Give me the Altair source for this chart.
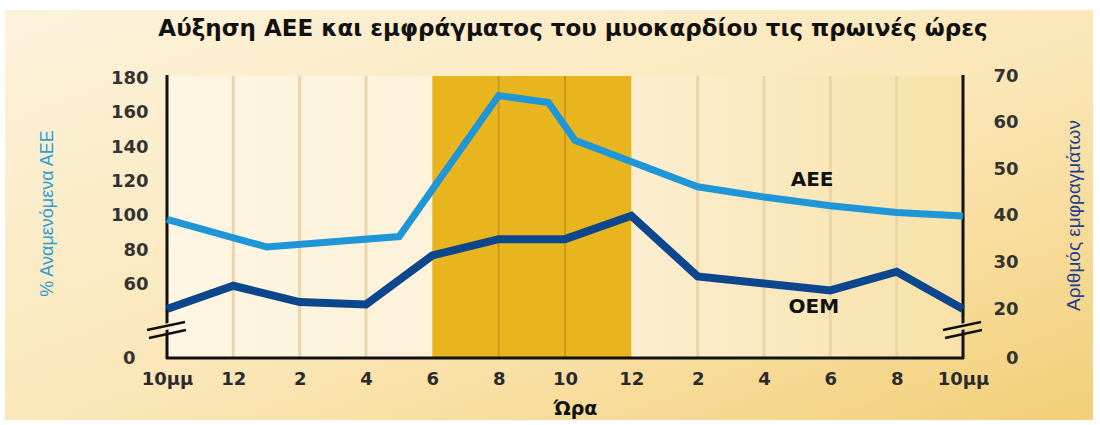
import json
import altair as alt
import pandas as pd

# Hours are counted from 22:00 (0) to 22:00 of the next day (24)
aee_hours = [0, 3, 7, 10, 11.5, 12.3, 16, 18, 20, 22, 24]
aee_values = [98, 82, 88, 170, 166, 144, 117, 111, 106, 102, 100]   # % of expected

oem_hours = [0, 2, 4, 6, 8, 10, 12, 14, 16, 20, 22, 24]
oem_values = [20, 25, 21.5, 21, 31.5, 35, 35, 40, 27, 24, 28, 20]   # number of infarctions

tick_hours = [0, 2, 4, 6, 8, 10, 12, 14, 16, 18, 20, 22, 24]
tick_labels = ["10μμ", "12", "2", "4", "6", "8", "10", "12", "2", "4", "6", "8", "10μμ"]

morning_band = [8, 14]          # 06:00 - 12:00
light_grid = [2, 4, 6, 16, 18, 20, 22]
band_grid = [10, 12]

aee_ticks = [60, 80, 100, 120, 140, 160, 180]
oem_ticks = [20, 30, 40, 50, 60, 70]
aee_floor, aee_top = 17.4, 181.4   # broken axis: bottom edge is labelled 0
oem_floor, oem_top = 9.5, 70

series_names = ["ΑΕΕ", "ΟΕΜ"]
series_label_hours = [19.45, 19.5]
series_label_values = [121, 20.4]

title_text = "Αύξηση ΑΕΕ και εμφράγματος του μυοκαρδίου τις πρωινές ώρες"

W, H = 796, 282
PAD = {"left": 167, "top": 76, "right": 137, "bottom": 67}

LIGHT_BLUE = "#1e96d7"
DARK_BLUE = "#0c468c"
INK = "#111111"
LABEL_FONT = "DejaVu Sans"
NARROW = "Liberation Sans Narrow, Liberation Sans"

one = pd.DataFrame({"k": [0]})

xscale = alt.Scale(domain=[0, 24], nice=False, zero=False)
label_lookup = json.dumps(tick_labels, ensure_ascii=False)
xaxis = alt.Axis(
    values=tick_hours,
    labelExpr=f"{label_lookup}[round(datum.value / 2)]",
    domain=False, ticks=False, grid=False, labelFlush=False,
    labelFont=LABEL_FONT, labelFontWeight="bold", labelFontSize=18, labelColor="#2b2b2b",
    labelPadding=12,
    title="Ώρα", titleFont=LABEL_FONT, titleFontWeight="bold", titleFontSize=19, titleColor=INK,
    titleX=408, titleY=50, titleAlign="center", titleBaseline="middle",
    zindex=1,
)


def xenc(field):
    return alt.X(f"{field}:Q", scale=xscale, axis=xaxis)


# page background with a warm gradient
background = alt.Chart(one).mark_rect(
    color=alt.LinearGradient(
        gradient="linear", x1=0, y1=0, x2=1, y2=1,
        stops=[alt.GradientStop(offset=0, color="#fdf3dc"),
               alt.GradientStop(offset=0.55, color="#fbe6b6"),
               alt.GradientStop(offset=1, color="#f2cf78")],
    )
).encode(x=alt.value(-162), x2=alt.value(926), y=alt.value(-66), y2=alt.value(344))

# heading drawn inside the chart's padding
heading = alt.Chart(pd.DataFrame({"t": [title_text]})).mark_text(
    font=LABEL_FONT, fontWeight="bold", fontSize=23, color=INK,
    align="center", baseline="middle",
).encode(x=alt.value(406), y=alt.value(-47), text="t:N")

plot_fill = alt.Chart(one).mark_rect(
    color=alt.LinearGradient(
        gradient="linear", x1=0, y1=0, x2=1, y2=0,
        stops=[alt.GradientStop(offset=0, color="#fef6e4"),
               alt.GradientStop(offset=0.55, color="#fcf0d4"),
               alt.GradientStop(offset=1, color="#f8e2a8")],
    )
).encode(x=alt.value(0), x2=alt.value(W), y=alt.value(0), y2=alt.value(H))

band_df = pd.DataFrame({"start": [morning_band[0]], "end": [morning_band[1]]})
band = alt.Chart(band_df).mark_rect(color="#e9b51f").encode(
    x=xenc("start"), x2="end", y=alt.value(0), y2=alt.value(H)
)

grid_l = alt.Chart(pd.DataFrame({"h": light_grid})).mark_rule(
    color="#ead6a6", strokeWidth=3
).encode(x=xenc("h"), y=alt.value(0), y2=alt.value(H))

grid_d = alt.Chart(pd.DataFrame({"h": band_grid})).mark_rule(
    color="#c99a22", strokeWidth=2
).encode(x=xenc("h"), y=alt.value(0), y2=alt.value(H))

# axis frame: left, bottom and right lines
frame = alt.layer(
    alt.Chart(one).mark_rule(color=INK, strokeWidth=3).encode(
        x=alt.value(0), y=alt.value(-1), y2=alt.value(H + 1)),
    alt.Chart(one).mark_rule(color=INK, strokeWidth=3).encode(
        x=alt.value(W), y=alt.value(-1), y2=alt.value(H + 1)),
    alt.Chart(one).mark_rule(color=INK, strokeWidth=3).encode(
        x=alt.value(-1), x2=alt.value(W + 1), y=alt.value(H)),
)

# left scale: expected AEE (%)
aee_y = alt.Y(
    "v:Q",
    scale=alt.Scale(domain=[aee_floor, aee_top], nice=False, zero=False),
    axis=alt.Axis(
        orient="left", values=[aee_floor] + aee_ticks,
        labelExpr="datum.value < 30 ? '0' : datum.label",
        domain=False, ticks=False, grid=False,
        labelFont=LABEL_FONT, labelFontWeight="bold", labelFontSize=18, labelColor="#333333",
        labelPadding={"condition": {"test": "datum.value < 30", "value": 32}, "value": 19},
        title="% Αναμενόμενα ΑΕΕ", titleFont=NARROW, titleFontWeight="normal",
        titleFontSize=18, titleColor="#2b9fd8",
        titleX=-120, titleY=137, titleAngle=270, titleAlign="center", titleBaseline="middle",
        zindex=1,
    ),
)

# right scale: number of infarctions
oem_y = alt.Y(
    "v:Q",
    scale=alt.Scale(domain=[oem_floor, oem_top], nice=False, zero=False),
    axis=alt.Axis(
        orient="right", values=[oem_floor] + oem_ticks,
        labelExpr="datum.value < 15 ? '0' : datum.label",
        domain=False, ticks=False, grid=False,
        labelFont=LABEL_FONT, labelFontWeight="bold", labelFontSize=18, labelColor="#333333",
        labelAlign="right", labelPadding=55,
        title="Αριθμός εμφραγμάτων", titleFont=NARROW, titleFontWeight="normal",
        titleFontSize=19, titleColor="#1f3f8f",
        titleX=110, titleY=139, titleAngle=270, titleAlign="center", titleBaseline="middle",
        zindex=1,
    ),
)

aee_df = pd.DataFrame({"h": aee_hours, "v": aee_values})
oem_df = pd.DataFrame({"h": oem_hours, "v": oem_values})
lab_df = pd.DataFrame({"h": series_label_hours, "v": series_label_values, "t": series_names})

aee_line = alt.Chart(aee_df).mark_line(color=LIGHT_BLUE, strokeWidth=7, strokeJoin="miter").encode(
    x=xenc("h"), y=aee_y)
aee_text = alt.Chart(lab_df.iloc[[0]]).mark_text(
    font=LABEL_FONT, fontWeight="bold", fontSize=20, color=INK).encode(
    x=xenc("h"), y=aee_y, text="t:N")

oem_line = alt.Chart(oem_df).mark_line(color=DARK_BLUE, strokeWidth=8, strokeJoin="miter").encode(
    x=xenc("h"), y=oem_y)
oem_text = alt.Chart(lab_df.iloc[[1]]).mark_text(
    font=LABEL_FONT, fontWeight="bold", fontSize=20, color=INK).encode(
    x=xenc("h"), y=oem_y, text="t:N")

left_group = alt.layer(aee_line, aee_text)
right_group = alt.layer(oem_line, oem_text)


# axis-break marks: a gap in the axis line and two slanted strokes
def break_marks(x0, gap_color):
    gap = alt.Chart(one).mark_rule(color=gap_color, strokeWidth=6).encode(
        x=alt.value(x0 - 6), x2=alt.value(x0 + 6), y=alt.value(252), y2=alt.value(249))
    s1 = alt.Chart(one).mark_rule(color=INK, strokeWidth=2.5).encode(
        x=alt.value(x0 - 20), x2=alt.value(x0 + 18), y=alt.value(254), y2=alt.value(246))
    s2 = alt.Chart(one).mark_rule(color=INK, strokeWidth=2.5).encode(
        x=alt.value(x0 - 18), x2=alt.value(x0 + 19), y=alt.value(262), y2=alt.value(254))
    return alt.layer(gap, s1, s2)


chart = alt.layer(
    background, heading, plot_fill, band, grid_l, grid_d, frame,
    left_group, right_group,
    break_marks(0, "#fcf1d8"), break_marks(W, "#f7e2a6"),
).resolve_scale(y="independent").properties(
    width=W, height=H,
    padding=PAD,
    autosize=alt.AutoSizeParams(type="none"),
    background="#ffffff",
).configure_view(stroke=None)

chart.save("out.html", embed_options={"renderer": "svg", "actions": False})
